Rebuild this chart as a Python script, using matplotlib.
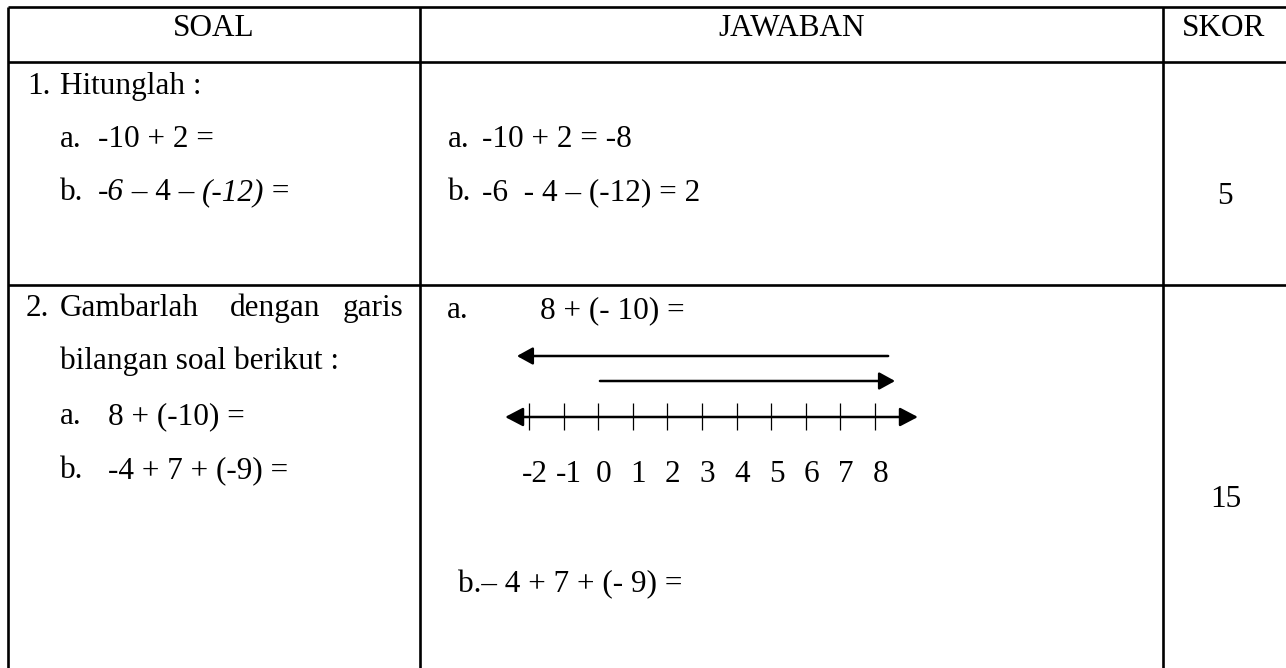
import matplotlib
matplotlib.use("Agg")
import matplotlib.pyplot as plt

# ---------------- data ----------------
headers = ["SOAL", "JAWABAN", "SKOR"]
scores = ["5", "15"]
soal1_title = ("1.", "Hitunglah :")
soal1_items = [("a.", [("-10 + 2 =", "normal")]),
               ("b.", [("-6", "italic"), (" \u2013 4 \u2013 ", "normal"),
                       ("(-12)", "italic"), (" =", "normal")])]
jawab1_items = [("a.", "-10 + 2 = -8"), ("b.", "-6  - 4 \u2013 (-12) = 2")]
soal2_words = ["Gambarlah", "dengan", "garis"]
soal2_line2 = "bilangan soal berikut :"
soal2_items = [("a.", "8 + (-10) ="), ("b.", "-4 + 7 + (-9) =")]
jawab2_a = ("a.", "8 + (- 10) =")
jawab2_b = "b.\u2013 4 + 7 + (- 9) ="
nl_ticks = list(range(-2, 9))
nl_labels = [str(v) for v in nl_ticks]
nl_extent = (-2.69, 9.24)
arrow_starts = [8.38, 0.05]
arrow_ends = [-2.35, 8.58]

# ---------------- style ----------------
W, H = 1286, 668
FONT = "Liberation Serif"
FS = 22.5
LW = 1.9

fig = plt.figure(figsize=(W / 100, H / 100), dpi=100)
ax = fig.add_axes([0, 0, 1, 1])
ax.set_xlim(0, W)
ax.set_ylim(H, 0)
ax.axis("off")

def txt(x, y, s, ha="left", style="normal"):
    return ax.text(x, y, s, ha=ha, va="baseline", fontsize=FS,
                   family=FONT, style=style, color="black")

# table grid
xL, xC1, xC2, xR = 8, 420, 1163, 1290
yT, yH, yR1 = 7, 62, 285
for y in (yT, yH, yR1):
    ax.plot([xL, xR], [y, y], color="black", lw=LW, solid_capstyle="butt")
for x in (xL, xC1, xC2):
    ax.plot([x, x], [yT, H + 5], color="black", lw=LW, solid_capstyle="butt")

# headers
for cx, h in zip([(xL + xC1) / 2, (xC1 + xC2) / 2, 1224], headers):
    txt(cx, 36, h, ha="center")

# row 1 - soal
txt(27, 94, soal1_title[0])
txt(60, 94, soal1_title[1])
for (lab, parts), y in zip(soal1_items, [147, 200]):
    txt(60, y, lab)
    prev = None
    for s, st in parts:
        if prev is None:
            prev = ax.text(98, y, s, ha="left", va="baseline", fontsize=FS,
                           family=FONT, style=st, color="black")
        else:
            prev = ax.annotate(s, xy=(1, 0), xycoords=prev, ha="left",
                               va="bottom", fontsize=FS, family=FONT,
                               style=st, color="black")

# row 1 - jawaban
for (lab, s), y in zip(jawab1_items, [147, 200]):
    txt(448, y, lab)
    txt(482, y, s)

# scores
txt(1225, 204, scores[0], ha="center")
txt(1226, 507, scores[1], ha="center")

# row 2 - soal
txt(26, 316, "2.")
for x, w in zip([60, 230, 343], soal2_words):
    txt(x, 316, w)
txt(60, 369, soal2_line2)
for (lab, s), y in zip(soal2_items, [424, 478]):
    txt(60, y, lab)
    txt(108, y, s)

# row 2 - jawaban
txt(447, 318, jawab2_a[0])
txt(540, 318, jawab2_a[1])
txt(458, 592, jawab2_b)

# ---------------- number line (own axes, data units) ----------------
px0, px1 = xC1, xC2
v_at_529 = -2.0
unit = 34.6
xmin = v_at_529 - (529 - px0) / unit
xmax = v_at_529 + (px1 - 529) / unit
py_top, py_bot = 300, 520
nl = fig.add_axes([px0 / W, 1 - py_bot / H, (px1 - px0) / W, (py_bot - py_top) / H])
nl.set_xlim(xmin, xmax)
nl.set_ylim(py_bot, py_top)
nl.axis("off")
nl.patch.set_alpha(0)

y_axis = 417
nl.annotate("", xy=(nl_extent[1], y_axis), xytext=(nl_extent[0], y_axis),
            arrowprops=dict(arrowstyle="<|-|>,head_length=0.42,head_width=0.22",
                            lw=1.8, color="black", shrinkA=0, shrinkB=0,
                            mutation_scale=26))
nl.vlines(nl_ticks, y_axis - 14, y_axis + 13, color="black", lw=0.9)
for v, lab in zip(nl_ticks, nl_labels):
    nl.text(v + 0.16, 482, lab, ha="center", va="baseline", fontsize=FS,
            family=FONT, color="black")

for s, e, y in zip(arrow_starts, arrow_ends, [356, 381]):
    nl.annotate("", xy=(e, y), xytext=(s, y),
                arrowprops=dict(arrowstyle="-|>,head_length=0.4,head_width=0.22",
                                lw=1.8, color="black", shrinkA=0, shrinkB=0,
                                mutation_scale=24))

fig.savefig("out.png", dpi=100, facecolor="white")
